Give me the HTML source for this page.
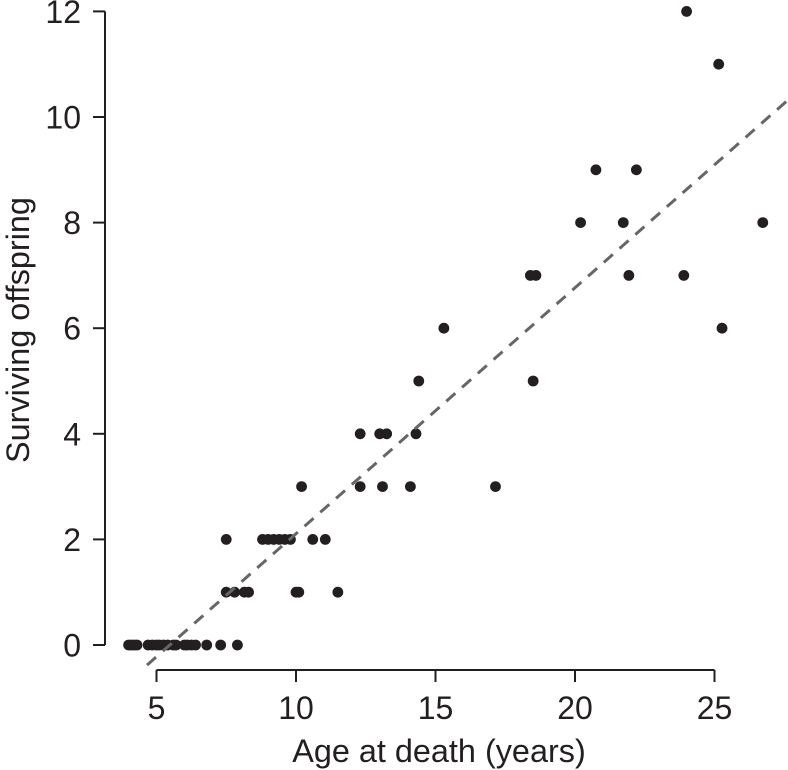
<!DOCTYPE html>
<html lang="en">
<head>
<meta charset="utf-8">
<title>Surviving offspring by age at death</title>
<style>
html,body{margin:0;padding:0;background:#fff;}
svg{display:block;}
text{font-family:"Liberation Sans",Arial,sans-serif;fill:#231f20;}
</style>
</head>
<body>
<svg id="chart" width="788" height="770" viewBox="0 0 788 770" xmlns="http://www.w3.org/2000/svg">
  <text x="439" y="762" font-size="32.4" text-anchor="middle">Age at death (years)</text>
  <text transform="translate(29,330) rotate(-90)" font-size="32.4" text-anchor="middle">Surviving offspring</text>
</svg>
<script>
const xTickLabels = [5, 10, 15, 20, 25];
const yTickLabels = [0, 2, 4, 6, 8, 10, 12];
const pointAges = [
  4.0, 4.1, 4.2, 4.3, 4.7, 4.85, 5.0, 5.1, 5.25, 5.4, 5.6, 5.7, 6.0, 6.1, 6.25, 6.4, 6.8, 7.3, 7.9,
  7.5, 7.8, 8.15, 8.3, 10.0, 10.1, 11.5,
  7.5, 8.8, 9.0, 9.2, 9.4, 9.6, 9.8, 10.6, 11.05,
  10.2, 12.3, 13.1, 14.1, 17.15,
  12.3, 13.0, 13.25, 14.3,
  14.4, 18.5,
  15.3, 25.27,
  18.4, 18.6, 21.93, 23.9,
  20.2, 21.73, 26.73,
  20.75, 22.2,
  25.15,
  24.0
];
const pointOffspring = [
  0, 0, 0, 0, 0, 0, 0, 0, 0, 0, 0, 0, 0, 0, 0, 0, 0, 0, 0,
  1, 1, 1, 1, 1, 1, 1,
  2, 2, 2, 2, 2, 2, 2, 2, 2,
  3, 3, 3, 3, 3,
  4, 4, 4, 4,
  5, 5,
  6, 6,
  7, 7, 7, 7,
  8, 8, 8,
  9, 9,
  11,
  12
];
const trendAges = [4.66, 27.63];
const trendOffspring = [-0.38, 10.32];

const NS = 'http://www.w3.org/2000/svg';
const svg = document.getElementById('chart');
const xScale = function (v) { return 156.5 + (v - 5) * 27.9; };
const yScale = function (v) { return 645 - v * 52.8; };
const ink = '#231f20';

function make(tag, attrs) {
  const el = document.createElementNS(NS, tag);
  Object.keys(attrs).forEach(function (k) { el.setAttribute(k, attrs[k]); });
  return el;
}

const xAxisLine = make('line', { x1: xScale(xTickLabels[0]), x2: xScale(xTickLabels[xTickLabels.length - 1]), y1: 670, y2: 670, stroke: ink, 'stroke-width': 2 });


svg.appendChild(xAxisLine);

const yAxisLine = make('line', { x1: 105, x2: 105, y1: yScale(yTickLabels[0]), y2: yScale(yTickLabels[yTickLabels.length - 1]), stroke: ink, 'stroke-width': 2 });


svg.appendChild(yAxisLine);

xTickLabels.forEach(function (t) {
  const tick = make('line', { x1: xScale(t), x2: xScale(t), y1: 670, y2: 682, stroke: ink, 'stroke-width': 2 });
  
  
  svg.appendChild(tick);
  const label = make('text', { x: xScale(t), y: 719, 'font-size': 32, 'text-anchor': 'middle' });
  
  
  label.textContent = t;
  svg.appendChild(label);
});

yTickLabels.forEach(function (t) {
  const tick = make('line', { x1: 93, x2: 105, y1: yScale(t), y2: yScale(t), stroke: ink, 'stroke-width': 2 });
  
  
  svg.appendChild(tick);
  const label = make('text', { x: 81, y: yScale(t) + 11.5, 'font-size': 32, 'text-anchor': 'end' });
  
  
  label.textContent = t;
  svg.appendChild(label);
});

pointAges.forEach(function (age, i) {
  const dot = make('circle', { cx: xScale(age), cy: yScale(pointOffspring[i]), r: 5.4, fill: ink });
  
  
  svg.appendChild(dot);
});

const trend = make('line', {
  x1: xScale(trendAges[0]), y1: yScale(trendOffspring[0]),
  x2: xScale(trendAges[1]), y2: yScale(trendOffspring[1]),
  stroke: '#666666', 'stroke-width': 3, 'stroke-dasharray': '12 9'
});


svg.appendChild(trend);
</script>
</body>
</html>
